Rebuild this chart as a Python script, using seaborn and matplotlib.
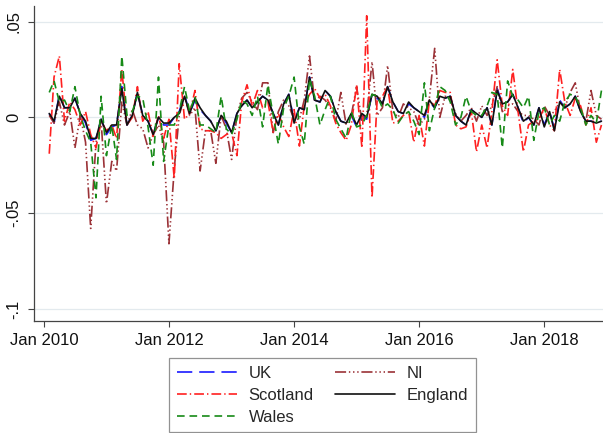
import pandas as pd
import matplotlib
matplotlib.use("Agg")
import matplotlib.pyplot as plt
import seaborn as sns

# monthly growth rates, Feb 2010 - Dec 2018
months = pd.date_range("2010-02-01", periods=107, freq="MS")

england = [
    0.002, -0.002, 0.011, 0.005, 0.005, 0.010, 0.002, -0.002, -0.011, -0.011,
    -0.001, -0.008, -0.004, -0.004, 0.015, -0.004, 0.001, 0.013, 0.001, -0.002,
    -0.009, 0.000, -0.003, -0.003, 0.000, 0.002, 0.011, 0.002, 0.010, 0.005,
    0.001, -0.002, -0.007, 0.001, -0.002, -0.008, 0.002, 0.006, 0.009, 0.005,
    0.008, 0.011, 0.009, 0.002, -0.004, 0.007, 0.012, -0.003, 0.005, 0.004,
    0.021, 0.009, 0.008, 0.014, 0.011, 0.003, -0.002, -0.003, 0.002, -0.004,
    0.002, 0.000, 0.012, 0.011, 0.007, 0.016, 0.008, 0.003, 0.002, 0.008,
    0.005, 0.003, 0.001, 0.009, 0.005, 0.011, 0.010, 0.011, 0.001, -0.002,
    -0.004, 0.004, 0.002, 0.000, 0.005, -0.004, 0.014, 0.007, 0.008, 0.012,
    0.005, -0.002, 0.000, -0.004, 0.005, -0.005, 0.003, -0.007, 0.008, 0.005,
    0.007, 0.011, 0.003, -0.002, -0.002, -0.003, -0.002,
]

uk = [
    0.002, -0.003, 0.012, 0.005, 0.005, 0.010, 0.002, -0.003, -0.012, -0.011,
    -0.001, -0.009, -0.005, -0.004, 0.016, -0.004, 0.001, 0.013, 0.001, -0.002,
    -0.009, 0.000, -0.004, -0.004, 0.000, 0.003, 0.012, 0.002, 0.009, 0.004,
    0.001, -0.002, -0.007, 0.001, -0.003, -0.008, 0.002, 0.006, 0.009, 0.005,
    0.008, 0.011, 0.009, 0.002, -0.004, 0.007, 0.012, -0.002, 0.005, 0.004,
    0.021, 0.009, 0.008, 0.014, 0.011, 0.003, -0.002, -0.003, 0.001, -0.005,
    0.001, -0.001, 0.012, 0.010, 0.007, 0.016, 0.008, 0.003, 0.002, 0.007,
    0.005, 0.003, 0.000, 0.008, 0.005, 0.011, 0.010, 0.011, 0.001, -0.002,
    -0.004, 0.004, 0.002, 0.000, 0.005, -0.004, 0.015, 0.007, 0.008, 0.012,
    0.005, -0.003, 0.000, -0.004, 0.005, -0.004, 0.003, -0.006, 0.009, 0.005,
    0.007, 0.011, 0.003, -0.002, -0.002, -0.003, -0.002,
]

scotland = [
    -0.019, 0.021, 0.032, -0.002, 0.008, 0.004, -0.004, 0.003, -0.009, -0.016,
    -0.002, -0.007, -0.004, -0.011, 0.025, -0.004, 0.000, 0.016, -0.002, 0.003,
    -0.010, 0.001, -0.011, -0.001, -0.032, 0.028, -0.001, 0.002, 0.014, -0.006,
    -0.007, -0.007, -0.008, -0.011, -0.009, -0.008, -0.020, 0.008, 0.017, 0.006,
    0.014, 0.005, 0.008, -0.008, 0.002, -0.005, -0.010, 0.004, -0.015, 0.006,
    0.012, 0.015, 0.010, 0.012, 0.006, -0.003, -0.008, -0.012, -0.004, 0.017,
    -0.016, 0.053, -0.042, 0.009, 0.011, 0.016, -0.003, -0.002, 0.001, 0.003,
    -0.013, 0.001, -0.015, 0.009, 0.006, 0.014, 0.013, 0.013, -0.004, -0.006,
    -0.005, 0.003, -0.018, -0.004, -0.016, 0.003, 0.030, 0.006, 0.001, 0.025,
    0.003, -0.018, -0.004, -0.002, -0.001, 0.005, -0.004, -0.007, 0.025, 0.008,
    0.001, 0.010, 0.006, -0.004, 0.005, -0.013, -0.004,
]

wales = [
    0.013, 0.019, 0.008, 0.009, 0.003, 0.016, 0.001, -0.007, -0.013, -0.042,
    0.011, -0.020, -0.004, -0.022, 0.032, 0.001, 0.003, 0.011, 0.010, -0.005,
    -0.025, 0.021, -0.023, -0.004, -0.004, 0.003, 0.016, 0.003, 0.011, -0.004,
    -0.004, -0.006, -0.008, 0.011, -0.006, -0.009, -0.001, 0.009, 0.007, 0.001,
    0.011, -0.005, 0.017, 0.001, -0.014, 0.005, 0.011, 0.021, -0.005, -0.014,
    0.020, 0.011, -0.004, 0.004, 0.011, -0.001, -0.006, -0.011, 0.003, -0.005,
    -0.004, 0.001, 0.012, 0.011, 0.005, 0.007, 0.004, -0.003, 0.001, 0.003,
    -0.002, -0.009, 0.018, -0.007, 0.005, 0.016, 0.014, 0.008, -0.004, 0.000,
    0.011, 0.003, 0.001, 0.001, 0.006, 0.013, 0.012, -0.016, 0.019, 0.011,
    0.009, 0.005, 0.011, -0.012, 0.003, 0.005, -0.004, 0.001, -0.002, 0.008,
    0.012, 0.011, 0.005, -0.004, 0.001, -0.003, 0.014,
]

ni = [
    0.001, -0.003, 0.008, -0.004, 0.003, -0.016, 0.001, -0.013, -0.058, -0.013,
    -0.002, -0.045, -0.023, -0.028, 0.008, -0.004, 0.004, -0.004, -0.006, -0.016,
    -0.009, -0.004, -0.013, -0.066, -0.027, 0.001, 0.011, 0.001, 0.005, -0.028,
    -0.007, -0.007, -0.024, 0.001, -0.006, -0.022, 0.001, 0.010, 0.013, 0.008,
    0.004, 0.018, 0.018, -0.008, 0.003, 0.009, 0.006, -0.001, -0.001, 0.009,
    0.032, 0.008, 0.011, 0.009, 0.005, -0.002, 0.013, -0.004, 0.001, 0.016,
    -0.002, 0.001, 0.029, 0.001, 0.005, 0.027, 0.003, 0.000, 0.007, 0.005,
    0.003, -0.004, -0.001, 0.010, 0.036, 0.000, 0.011, 0.010, 0.002, -0.002,
    0.001, 0.005, -0.002, 0.006, 0.001, 0.006, 0.016, 0.003, 0.006, 0.007,
    0.003, 0.001, 0.001, -0.001, -0.004, 0.006, 0.001, 0.003, 0.008, 0.005,
    0.013, 0.018, 0.003, -0.002, 0.014, 0.001, -0.001,
]

series = {"UK": uk, "NI": ni, "Scotland": scotland, "England": england, "Wales": wales}
df = pd.concat(
    [pd.DataFrame({"date": months, "value": v, "region": k}) for k, v in series.items()],
    ignore_index=True,
)

palette = {"UK": "#1a1aff", "NI": "#9b3237", "Scotland": "#ff2020",
           "England": "#111111", "Wales": "#178a17"}
dashes = {"UK": (11, 5), "NI": (8, 2, 1, 2, 1, 2, 1, 2), "Scotland": (7, 2.2, 1, 2.2),
          "England": "", "Wales": (5.5, 3.5)}
tick_dates = pd.to_datetime(["2010-01-01", "2012-01-01", "2014-01-01", "2016-01-01", "2018-01-01"])
tick_names = ["Jan 2010", "Jan 2012", "Jan 2014", "Jan 2016", "Jan 2018"]

sns.set_theme(style="white")
plt.rcParams["font.family"] = ["Liberation Sans", "DejaVu Sans"]
plt.rcParams["lines.scale_dashes"] = False

fig = plt.figure(figsize=(6.03, 4.33), dpi=100)
ax = fig.add_axes([0.0564, 0.2587, 0.9436, 0.7283])

sns.lineplot(data=df, x="date", y="value", hue="region", style="region",
             hue_order=list(series.keys()), style_order=list(series.keys()),
             palette=palette, dashes=dashes, linewidth=1.2, ax=ax)

handles, labels = ax.get_legend_handles_labels()
hmap = dict(zip(labels, handles))
ax.get_legend().remove()

ax.set_xlim(pd.Timestamp("2009-11-04"), pd.Timestamp("2018-12-10"))
ax.set_ylim(-0.1063, 0.0583)
ax.set_xticks(tick_dates)
ax.set_xticklabels(tick_names)
ax.set_yticks([-0.1, -0.05, 0, 0.05])
ax.set_yticklabels(["-.1", "-.05", "0", ".05"], rotation=90, va="center")
ax.set_xlabel("")
ax.set_ylabel("")
ax.tick_params(axis="both", direction="out", length=4, width=0.8, color="#444444",
               labelsize=12, pad=5, labelcolor="#111111")
ax.tick_params(axis="x", bottom=True)
ax.tick_params(axis="y", left=True)
ax.yaxis.grid(True, color="#e3eaee", linewidth=0.9)
ax.xaxis.grid(False)
for s in ["top", "right"]:
    ax.spines[s].set_visible(False)
for s in ["left", "bottom"]:
    ax.spines[s].set_color("#444444")
    ax.spines[s].set_linewidth(0.9)

order = ["UK", "Scotland", "Wales", "NI", "England"]
leg = fig.legend([hmap[k] for k in order], order, loc="upper center",
                 bbox_to_anchor=(0.535, 0.173), ncol=2, fontsize=12,
                 frameon=True, fancybox=False, handlelength=3.6,
                 handletextpad=0.7, columnspacing=1.3, labelspacing=0.42,
                 borderpad=0.45, borderaxespad=0)
leg.get_frame().set_edgecolor("#777777")
leg.get_frame().set_linewidth(0.9)
for line in leg.get_lines():
    line.set_linewidth(1.2)

fig.savefig("out.png", dpi=100)
